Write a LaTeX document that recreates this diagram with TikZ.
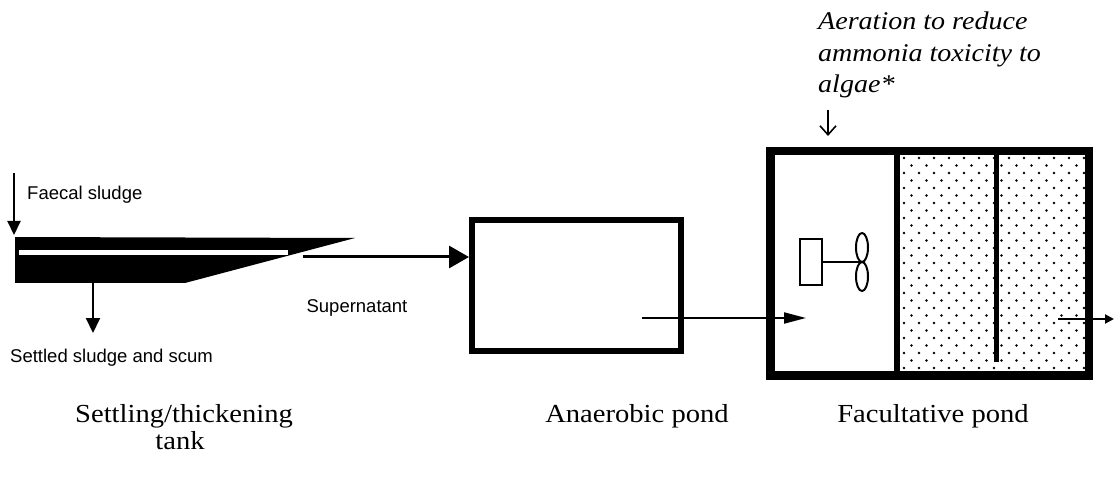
\documentclass[tikz,border=0pt]{standalone}
\usepackage{fontspec}
\setmainfont{Liberation Serif}[FakeStretch=1.1]
\newfontfamily\lblfont{Liberation Sans}
\usetikzlibrary{arrows.meta}
\tikzset{
  sanslbl/.style={inner sep=0pt, font=\lblfont\fontsize{18.5}{20}\selectfont},
  seriflbl/.style={inner sep=0pt, font=\fontsize{26}{29}\selectfont},
  itallbl/.style={inner sep=0pt, font=\itshape\fontsize{25.5}{31}\selectfont},
  flow/.style={line width=2pt, -{Triangle[length=14pt,width=12pt]}},
}
\begin{document}
\begin{tikzpicture}[x=1pt,y=-1pt]
\useasboundingbox (0,0) rectangle (1117,481);

% ---------- settling / thickening tank ----------
\fill (15,237) -- (355,238) -- (185,283) -- (15,283) -- cycle;
\fill[white] (19,250) rectangle (288,255);
\coordinate (fsA) at (14,173);
\coordinate (fsB) at (14,235);
\draw[flow,-{Triangle[length=14pt,width=13pt]}] (fsA) -- (fsB);
\node[sanslbl, anchor=west] (fs) at (27,195) {Faecal sludge};
\coordinate (ssA) at (93,283);
\coordinate (ssB) at (93,333);
\draw[flow,-{Triangle[length=15pt,width=14pt]}] (ssA) -- (ssB);
\node[sanslbl, anchor=west] (ss) at (10,358) {Settled sludge and scum};

% supernatant
\coordinate (spA) at (303,257);
\node[draw, line width=6pt, minimum width=209pt, minimum height=131pt, inner sep=0pt] (ana) at (576.5,285.5) {};
\draw[line width=3pt, -{Triangle[length=20pt,width=22pt]}] (spA) -- (ana.west |- spA);
\node[sanslbl] (sp) at (357,308) {Supernatant};

% ---------- anaerobic pond outflow ----------
\coordinate (aoA) at (642,318);
\coordinate (aoB) at (806,318);
\draw[line width=2pt, -{Triangle[length=22pt,width=11pt]}] (aoA) -- (aoB);

% ---------- facultative pond ----------
\begin{scope}
\clip (900,155) rectangle (1085,371);
\foreach \i in {0,...,29} {
  \pgfmathsetmacro\yy{158+7.5*\i}
  \pgfmathsetmacro\xo{904+7.5*mod(\i,2)}
  \foreach \j in {0,...,12} {
    \fill (\xo+15*\j,\yy) circle (1.4);
  }
}
\end{scope}
\draw[line width=9pt] (770,151.5) -- (770,375.5);
\draw[line width=8pt] (766,151.5) -- (1093,151.5);
\draw[line width=8pt] (1089,147.5) -- (1089,379.5);
\draw[line width=9pt] (766,375.5) -- (1093,375.5);
\draw[line width=6pt] (897,151.5) -- (897,375.5);
\draw[line width=5pt] (996,155) -- (996,362);

% aerator
\node[draw, line width=2pt, minimum width=22pt, minimum height=46pt, inner sep=0pt] (mot) at (811,262) {};
\coordinate (prop) at (862,262);
\draw[line width=2pt] (mot.east) -- (prop);
\draw[line width=2pt] (862,247.5) ellipse (6 and 14.5);
\draw[line width=2pt] (862,276.5) ellipse (6 and 14.5);

% outlet
\coordinate (ouA) at (1058,319);
\coordinate (ouB) at (1114,319);
\draw[line width=2pt, -{Triangle[length=9pt,width=9pt]}] (ouA) -- (ouB);

% aeration note
\node[itallbl, anchor=base west] (ae1) at (818,30) {Aeration to reduce};
\node[itallbl, anchor=base west] (ae2) at (818,62) {ammonia toxicity to};
\node[itallbl, anchor=base west] (ae3) at (818,93) {algae*};
\coordinate (arA) at (828,110);
\coordinate (arB) at (828,136);
\draw[line width=1.6pt, -{Straight Barb[length=9pt,width=16pt]}] (arA) -- (arB);

% ---------- bottom labels ----------
\node[seriflbl, anchor=base] (l1) at (184,422) {Settling/thickening};
\node[seriflbl, anchor=base] (l1b) at (180,449) {tank};
\node[seriflbl, anchor=base] (l2) at (637,422) {Anaerobic pond};
\node[seriflbl, anchor=base] (l3) at (933,422) {Facultative pond};
\end{tikzpicture}
\end{document}
